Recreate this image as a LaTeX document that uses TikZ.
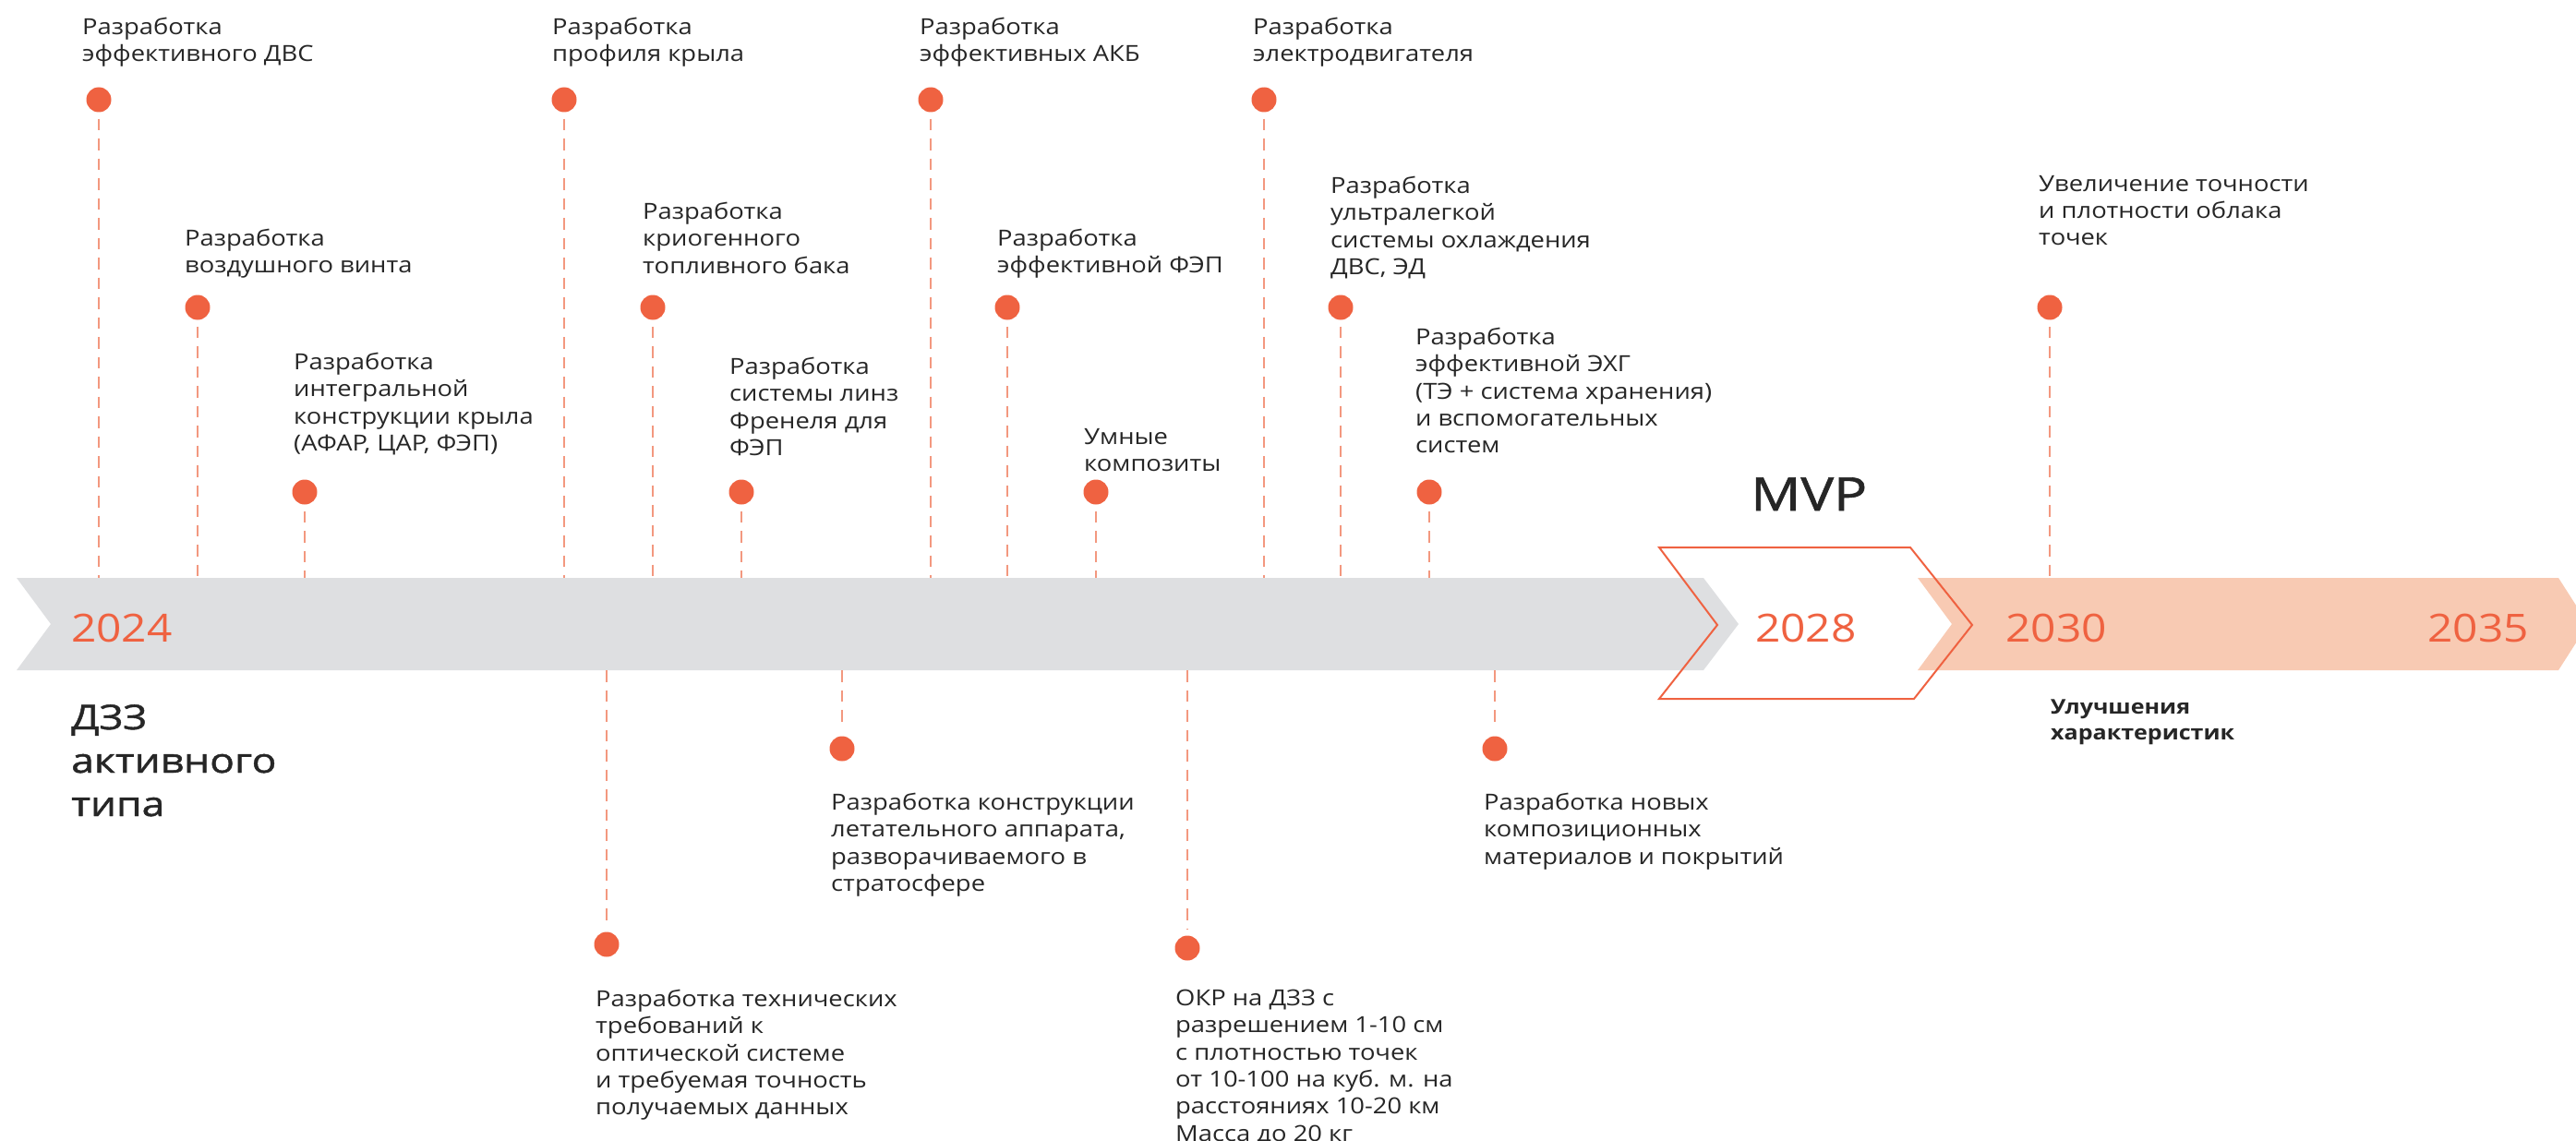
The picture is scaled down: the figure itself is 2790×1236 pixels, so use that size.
\documentclass[tikz,border=0pt]{standalone}
\usepackage{fontspec}
\setmainfont{Open Sans}[FakeStretch=1.14]
\newfontfamily\medfont{Open Sans}[FakeBold=1.2,FakeStretch=1.2]
\definecolor{bandgray}{HTML}{DEDFE1}
\definecolor{peach}{HTML}{F8CAB3}
\definecolor{orng}{HTML}{EF6241}
\definecolor{dashc}{HTML}{F3987F}
\definecolor{txtc}{HTML}{262626}
\newcommand\lblfont{\fontsize{24}{29.3}\selectfont}
\newcommand\yearfont{\fontsize{42}{50}\selectfont}
\tikzset{
  lbl/.style={anchor=north west, inner sep=0pt, align=left, font=\lblfont, text=txtc, yshift=18pt, execute at begin node=\strut},
  yearlbl/.style={anchor=base west, inner sep=0pt, font=\yearfont, text=orng},
  dotn/.style={circle, fill=orng, minimum size=27pt, inner sep=0pt},
  dashln/.style={draw=dashc, line width=2pt, dash pattern=on 12.5pt off 9pt},
}
\begin{document}
\begin{tikzpicture}[x=1pt,y=-1pt]
\useasboundingbox (0,0) rectangle (2790,1236);
% bands
\fill[bandgray] (18,626) -- (1845,626) -- (1883,676) -- (1845,726) -- (18,726) -- (55,676) -- cycle;
\fill[peach] (2077,626) -- (2771,626) -- (2803,676) -- (2771,726) -- (2077,726) -- (2114,676) -- cycle;
\draw[orng, line width=2pt, line join=miter] (1797,593) -- (2069,593) -- (2136,677) -- (2073,757) -- (1797,757) -- (1860,677) -- cycle;
\coordinate (bandtop) at (0,626);
\coordinate (bandbot) at (0,726);
% years
\node[yearlbl] (y2024) at (77,695) {2024};
\node[yearlbl] (y2028) at (1901,695) {2028};
\node[yearlbl] (y2030) at (2172,695) {2030};
\node[yearlbl] (y2035) at (2629,695) {2035};
\node[anchor=base west, inner sep=0pt, font=\medfont\fontsize{50}{60}\selectfont, text=txtc] (mvp) at (1896,553) {MVP};
\node[anchor=north west, inner sep=0pt, align=left, font=\medfont\fontsize{37}{47}\selectfont, text=txtc, yshift=30pt, execute at begin node=\strut] (dzz) at (77,793) {ДЗЗ\\активного\\типа};
\node[anchor=north west, inner sep=0pt, align=left, font=\bfseries\fontsize{22}{28}\selectfont, text=txtc, yshift=19.6pt, execute at begin node=\strut] (impr) at (2221,777) {Улучшения\\характеристик};
% top milestones
\foreach \n/\dx/\dy/\tx/\ty/\txt in {
  t1/107/108/89/37/{Разработка\\эффективного ДВС},
  t2/214/333/200/266/{Разработка\\воздушного винта},
  t3/330/533/318/400/{Разработка\\интегральной\\конструкции крыла\\(АФАР, ЦАР, ФЭП)},
  t4/611/108/598/37/{Разработка\\профиля крыла},
  t5/707/333/696/237/{Разработка\\криогенного\\топливного бака},
  t6/803/533/790/405/{Разработка\\системы линз\\Френеля для\\ФЭП},
  t7/1008/108/996/37/{Разработка\\эффективных АКБ},
  t8/1091/333/1080/266/{Разработка\\эффективной ФЭП},
  t9/1187/533/1174/482/{Умные\\композиты},
  t10/1369/108/1357/37/{Разработка\\электродвигателя},
  t11/1452/333/1441/209/{Разработка\\ультралегкой\\системы охлаждения\\ДВС, ЭД},
  t12/1548/533/1533/373/{Разработка\\эффективной ЭХГ\\(ТЭ + система хранения)\\и вспомогательных\\систем},
  t13/2220/333/2208/208/{Увеличение точности\\и плотности облака\\точек}}{
  \node[lbl] (\n l) at (\tx,\ty) {\txt};
  \node[dotn] (\n d) at (\dx,\dy) {};
  \draw[dashln] ([yshift=-7pt]\n d.south) -- (\n d |- bandtop);
}
% bottom milestones
\foreach \n/\dx/\dy/\tx/\ty/\txt in {
  b1/657/1023/645/1090/{Разработка технических\\требований к\\оптической системе\\и требуемая точность\\получаемых данных},
  b2/912/811/900/877/{Разработка конструкции\\летательного аппарата,\\разворачиваемого в\\стратосфере},
  b3/1286/1027/1273/1090/{ОКР на ДЗЗ с\\разрешением 1-10 см\\с плотностью точек\\от 10-100 на куб. м. на\\расстояниях 10-20 км\\Масса до 20 кг},
  b4/1619/811/1607/877/{Разработка новых\\композиционных\\материалов и покрытий}}{
  \node[lbl] (\n l) at (\tx,\ty) {\txt};
  \node[dotn] (\n d) at (\dx,\dy) {};
  \draw[dashln] (\n d |- bandbot) -- ([yshift=7pt]\n d.north);
}
\end{tikzpicture}
\end{document}
